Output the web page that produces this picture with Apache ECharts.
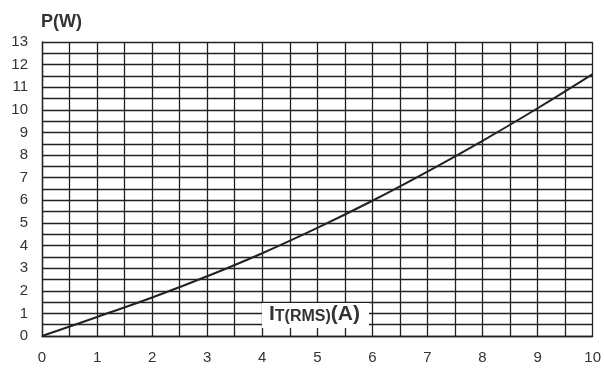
<!DOCTYPE html>
<html>
<head>
<meta charset="utf-8">
<script src="https://cdn.jsdelivr.net/npm/echarts@6/dist/echarts.min.js"></script>
<style>
html,body{margin:0;padding:0;background:#fff;}
#c{width:604px;height:371px;}
</style>
</head>
<body>
<div id="c"></div>
<script>
var current = [0, 1, 2, 3, 4, 5, 6, 7, 8, 9, 10];
var power   = [0, 0.84, 1.70, 2.64, 3.66, 4.78, 5.98, 7.27, 8.63, 10.07, 11.58];
var yTitle = 'P(W)';
var xTitleMain = 'I';
var xTitleSub = 'T(RMS)';
var xTitleUnit = '(A)';

var lineColor = '#222';
var font = '"Liberation Sans", Arial, sans-serif';
var chart = echarts.init(document.getElementById('c'), null, {renderer: 'canvas'});
var data = current.map(function (x, i) { return [x, power[i]]; });
var gridStyle = {color: lineColor, width: 1.3};
chart.setOption({
  animation: false,
  backgroundColor: '#fff',
  grid: {left: 42, right: 11, top: 42, bottom: 35, containLabel: false},
  title: [{
    text: yTitle, left: 41, top: 13, padding: 0,
    textStyle: {fontFamily: font, fontSize: 18, fontWeight: 'bold', color: '#333'}
  }, {
    text: '{m|' + xTitleMain + '}{s|' + xTitleSub + '}{m|' + xTitleUnit + '}',
    left: 262, top: 300,
    padding: [1, 9, 3, 7],
    backgroundColor: '#fff',
    textStyle: {
      rich: {
        m: {fontFamily: font, fontSize: 21, fontWeight: 'bold', color: '#333', verticalAlign: 'bottom', lineHeight: 24},
        s: {fontFamily: font, fontSize: 16, fontWeight: 'bold', color: '#333', verticalAlign: 'bottom', lineHeight: 21}
      }
    }
  }],
  xAxis: {
    type: 'value', min: 0, max: 10, interval: 1,
    axisLine: {show: true, onZero: false, lineStyle: gridStyle},
    axisTick: {show: false},
    minorTick: {show: false, splitNumber: 2},
    splitLine: {show: true, lineStyle: gridStyle},
    minorSplitLine: {show: true, lineStyle: gridStyle},
    axisLabel: {fontFamily: font, fontSize: 15, color: '#333', margin: 14}
  },
  yAxis: {
    type: 'value', min: 0, max: 13, interval: 1,
    axisLine: {show: true, onZero: false, lineStyle: gridStyle},
    axisTick: {show: false},
    minorTick: {show: false, splitNumber: 2},
    splitLine: {show: true, lineStyle: gridStyle},
    minorSplitLine: {show: true, lineStyle: gridStyle},
    axisLabel: {fontFamily: font, fontSize: 15, color: '#333', margin: 14}
  },
  series: [{
    type: 'line', data: data, smooth: 0.4, showSymbol: false,
    lineStyle: {color: lineColor, width: 2}, z: 3
  }]
});
</script>
</body>
</html>
